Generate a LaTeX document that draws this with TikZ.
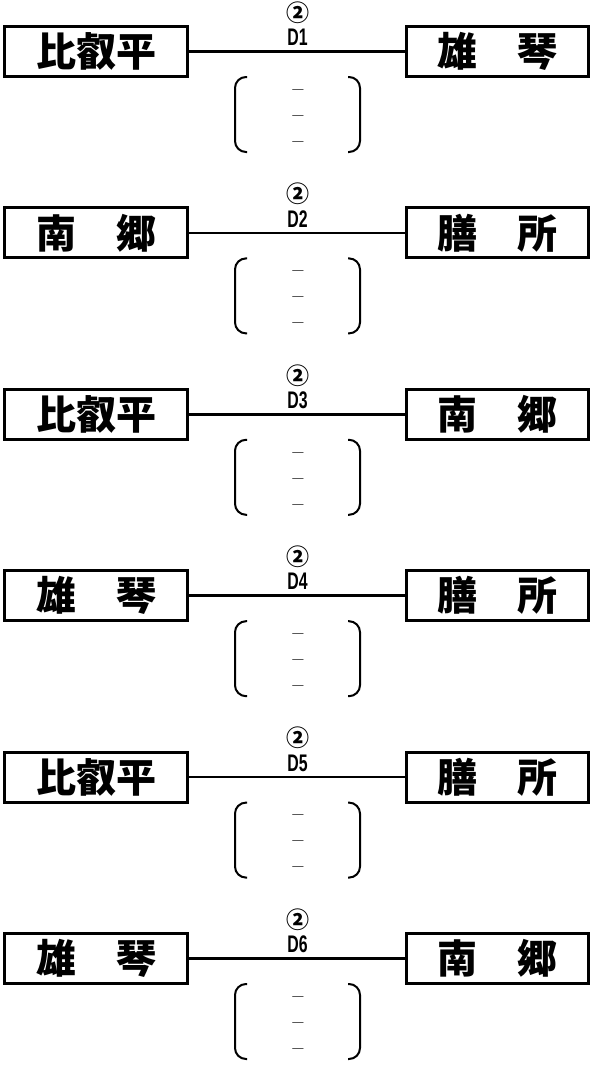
\documentclass[tikz,border=0pt]{standalone}
\usepackage{fontspec}
\newfontfamily\cjk{Noto Sans CJK JP}
\newfontfamily\lab{Liberation Sans}
\usetikzlibrary{positioning}
\tikzset{
  team/.style={draw, line width=3pt, minimum width=#1, minimum height=50pt, inner sep=0pt,
    font=\cjk\bfseries\fontsize{40}{40}\selectfont},
  team/.default=183pt,
  conn/.style={line width=2.6pt},
  brk/.style={line width=2pt, rounded corners=11pt},
  circnum/.style={inner sep=0pt, font=\cjk\bfseries\fontsize{23}{23}\selectfont},
  matchid/.style={inner sep=0pt, font=\lab\bfseries\fontsize{24}{24}\selectfont},
  dashmark/.style={inner sep=0pt, anchor=base, font=\bfseries\fontsize{20}{20}\selectfont},
}
\begin{document}
\begin{tikzpicture}[x=1pt,y=-1pt]
\useasboundingbox (0,0) rectangle (593,1065);
\foreach \i/\a/\b in {1/比叡平/雄　琴, 2/南　郷/膳　所, 3/比叡平/南　郷, 4/雄　琴/膳　所, 5/比叡平/膳　所, 6/雄　琴/南　郷}{
  \pgfmathsetmacro{\o}{181.4*(\i-1)}
  \node[team=183pt] (L\i) at (96,51.5+\o) {\a};
  \node[team=182pt] (R\i) at (497.5,51.5+\o) {\b};
  \draw[conn] (L\i.east) -- (R\i.west);
  \node[circnum] (c\i) at (298,12.5+\o) {②};
  \node[matchid] (m\i) at (297.5,37.5+\o) {\scalebox{0.66}[1]{D\i}};
  \coordinate (bl\i) at (235,114.5+\o);
  \coordinate (br\i) at (360,114.5+\o);
  \draw[brk] ([xshift=12pt,yshift=-37.5pt]bl\i) -- ([yshift=-37.5pt]bl\i) -- ([yshift=37.5pt]bl\i) -- ([xshift=12pt,yshift=37.5pt]bl\i);
  \draw[brk] ([xshift=-12pt,yshift=-37.5pt]br\i) -- ([yshift=-37.5pt]br\i) -- ([yshift=37.5pt]br\i) -- ([xshift=-12pt,yshift=37.5pt]br\i);
  \node[dashmark] (da\i) at (298,95.3+\o) {–};
  \node[dashmark] (db\i) at (298,121.3+\o) {–};
  \node[dashmark] (dc\i) at (298,147.3+\o) {–};
}
\end{tikzpicture}
\end{document}
